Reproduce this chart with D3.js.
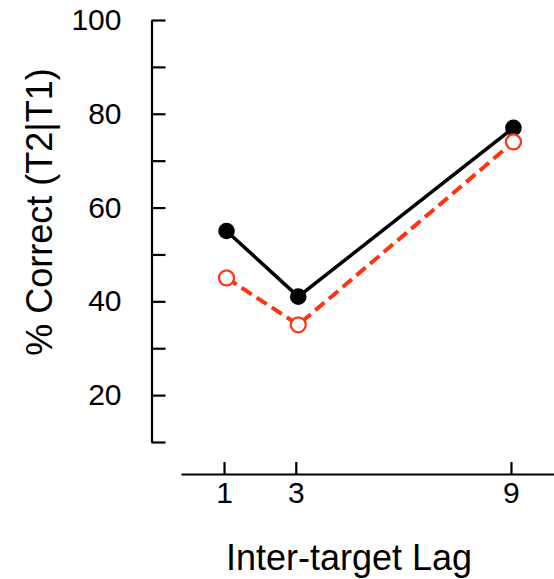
<!DOCTYPE html>
<html><head><meta charset="utf-8">
<script src="https://cdn.jsdelivr.net/npm/d3@7"></script>
<style>
body{margin:0;background:#fff;}
svg{display:block;font-family:"Liberation Sans",Arial,sans-serif;}
</style></head>
<body>
<svg id="c" width="554" height="579"></svg>
<script>
const lags = [1, 3, 9];
const seriesSolid = [55, 41, 77];
const seriesDashed = [45, 35, 74];
const yTicks = [10, 20, 30, 40, 50, 60, 70, 80, 90, 100];
const yLabelTicks = [20, 40, 60, 80, 100];
const xTitle = "Inter-target Lag";
const yTitle = "% Correct (T2|T1)";

const svg = d3.select("#c");
const x = d3.scaleLinear().domain([-0.2, 10.2]).range([181, 554]);
const y = d3.scaleLinear().domain([10, 100]).range([442, 20]);
const red = "#ff3311";

// Y axis
const yAxis = d3.axisLeft(y).tickValues(yTicks).tickSizeInner(-14).tickSizeOuter(0).tickPadding(30)
  .tickFormat(d => yLabelTicks.includes(d) ? d : "");
const gy = svg.append("g").attr("transform", "translate(151.5,0)").call(yAxis);
gy.select(".domain").attr("stroke-width", 2.2);
gy.selectAll(".tick line").attr("stroke-width", 2.2);
gy.selectAll("text").attr("font-size", 30).attr("fill", "#000").attr("font-family", "Liberation Sans, Arial, sans-serif");

// X axis
const xAxis = d3.axisBottom(x).tickValues(lags).tickSizeInner(-12).tickSizeOuter(0).tickPadding(8);
const gx = svg.append("g").attr("transform", "translate(0,474)").call(xAxis);
gx.select(".domain").attr("stroke-width", 2.2);
gx.selectAll(".tick line").attr("stroke-width", 2.2);
gx.selectAll("text").attr("font-size", 30).attr("fill", "#000").attr("font-family", "Liberation Sans, Arial, sans-serif");

// Titles
svg.append("text").attr("x", 349).attr("y", 570).attr("text-anchor", "middle")
  .attr("font-size", 36).text(xTitle);
svg.append("text").attr("transform", "translate(52,212) rotate(-90)").attr("text-anchor", "middle")
  .attr("font-size", 36).text(yTitle);

// Data
const pts = svg.append("g").attr("transform", "translate(2.5,0)");
const line = d3.line().x((d, i) => x(lags[i])).y(d => y(d));

pts.append("path").datum(seriesSolid).attr("d", line).attr("fill", "none")
  .attr("stroke", "#000").attr("stroke-width", 3.5);
pts.selectAll(".solid").data(seriesSolid).join("circle").attr("class", "solid")
  .attr("cx", (d, i) => x(lags[i])).attr("cy", d => y(d)).attr("r", 8.3).attr("fill", "#000");

pts.append("path").datum(seriesDashed).attr("d", line).attr("fill", "none")
  .attr("stroke", red).attr("stroke-width", 4).attr("stroke-dasharray", "12,6");
pts.selectAll(".dashed").data(seriesDashed).join("circle").attr("class", "dashed")
  .attr("cx", (d, i) => x(lags[i])).attr("cy", d => y(d)).attr("r", 7.5)
  .attr("fill", "#fff").attr("stroke", red).attr("stroke-width", 2.2);
</script>
</body></html>
